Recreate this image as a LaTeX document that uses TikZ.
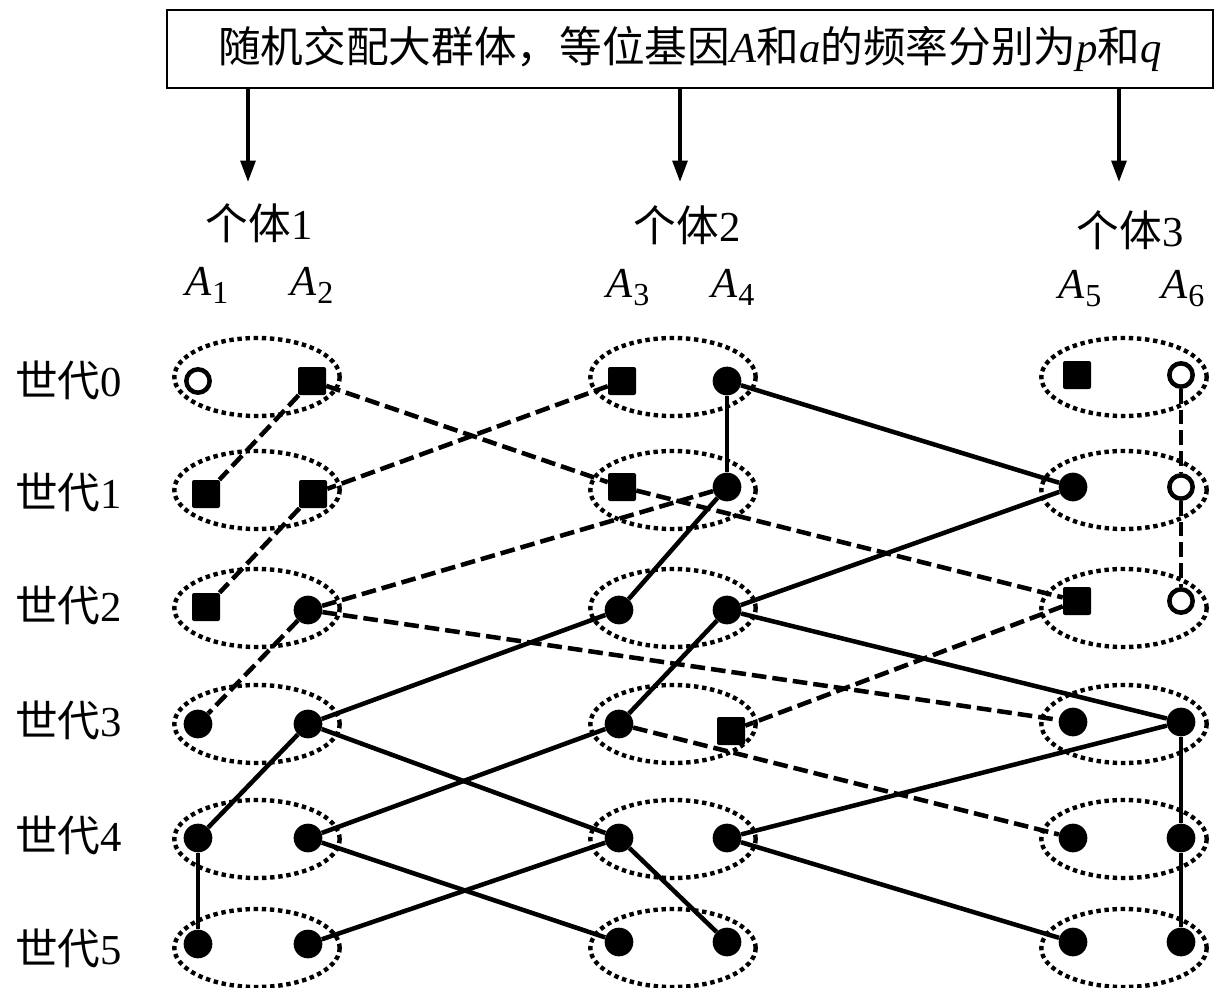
\documentclass[tikz,border=0pt]{standalone}
\usepackage{fontspec}
\setmainfont{Liberation Serif}
\newfontfamily\cjk{Noto Sans CJK SC}
\usetikzlibrary{shapes.geometric,arrows.meta}
\newcommand\Alab[1]{\textit{A}\kern0.5pt\raisebox{-6.5pt}{\fontsize{24}{24}\selectfont #1}}
\begin{document}
\begin{tikzpicture}[x=0.75pt,y=-0.75pt,
  txt/.style={font=\fontsize{32}{38}\selectfont, inner sep=0pt},
  dotn/.style={circle, fill=black, inner sep=0pt, minimum size=21.5pt},
  odot/.style={circle, draw=black, line width=3.4pt, fill=white, inner sep=0pt, minimum size=17.5pt},
  sqn/.style={rectangle, fill=black, rounded corners=1.5pt, inner sep=0pt, minimum size=21pt},
  grp/.style={ellipse, draw, line width=3.3pt, dash pattern=on 3.3pt off 2.8pt, minimum width=124pt, minimum height=58.5pt, inner sep=0pt},
  sl/.style={line width=3.4pt},
  dl/.style={line width=3.4pt, dash pattern=on 11pt off 4.5pt},
  arr/.style={line width=2.8pt, -{Triangle[length=16pt,width=11pt]}}
]
\useasboundingbox (0,0) rectangle (1217,988);

% title
\node[draw, line width=1.6pt, minimum width=784.5pt, minimum height=58.5pt, inner sep=0pt,
      font=\fontsize{32}{38}\selectfont] (title) at (690,49)
  {{\cjk 随机交配大群体，等位基因}\textit{A}{\cjk 和}\textit{a}{\cjk 的频率分别为}\textit{p}{\cjk 和}\textit{q}};

\coordinate (ar1) at (248,182);
\coordinate (ar2) at (680,182);
\coordinate (ar3) at (1119,182);
\draw[arr] (title.south -| ar1) -- (ar1);
\draw[arr] (title.south -| ar2) -- (ar2);
\draw[arr] (title.south -| ar3) -- (ar3);

% individual labels
\node[txt, anchor=base] (ind1) at (259,239) {{\cjk 个体}1};
\node[txt, anchor=base] (ind2) at (687,241) {{\cjk 个体}2};
\node[txt, anchor=base] (ind3) at (1130,246) {{\cjk 个体}3};

\node[txt, anchor=base] (l1) at (207,295) {\Alab{1}};
\node[txt, anchor=base] (l2) at (312,295) {\Alab{2}};
\node[txt, anchor=base] (l3) at (628,297) {\Alab{3}};
\node[txt, anchor=base] (l4) at (733,297) {\Alab{4}};
\node[txt, anchor=base] (l5) at (1080,298) {\Alab{5}};
\node[txt, anchor=base] (l6) at (1183,298) {\Alab{6}};

% generation labels
\node[txt, anchor=base west] (g0) at (15,396) {{\cjk 世代}0};
\node[txt, anchor=base west] (g1) at (15,508) {{\cjk 世代}1};
\node[txt, anchor=base west] (g2) at (15,621) {{\cjk 世代}2};
\node[txt, anchor=base west] (g3) at (15,736) {{\cjk 世代}3};
\node[txt, anchor=base west] (g4) at (15,851) {{\cjk 世代}4};
\node[txt, anchor=base west] (g5) at (15,964) {{\cjk 世代}5};

% ellipses
\foreach \r/\y in {0/377,1/490,2/608,3/724,4/839,5/948}{
  \node[grp] (e\r a) at (257,\y) {};
  \node[grp] (e\r b) at (673,\y) {};
  \node[grp] (e\r c) at (1124,\y) {};
}

% alleles
\node[odot] (a01) at (198,381) {};
\node[sqn]  (a02) at (312,381) {};
\node[sqn]  (a03) at (622,381) {};
\node[dotn] (a04) at (727,381) {};
\node[sqn]  (a05) at (1077,375) {};
\node[odot] (a06) at (1181,375) {};

\node[sqn]  (a11) at (206,494) {};
\node[sqn]  (a12) at (313,494) {};
\node[sqn]  (a13) at (622,487) {};
\node[dotn] (a14) at (727,487) {};
\node[dotn] (a15) at (1073,487) {};
\node[odot] (a16) at (1181,487) {};

\node[sqn]  (a21) at (206,607) {};
\node[dotn] (a22) at (308,610) {};
\node[dotn] (a23) at (619,610) {};
\node[dotn] (a24) at (727,610) {};
\node[sqn]  (a25) at (1077,601) {};
\node[odot] (a26) at (1181,601) {};

\node[dotn] (a31) at (198,724) {};
\node[dotn] (a32) at (308,724) {};
\node[dotn] (a33) at (619,724) {};
\node[sqn]  (a34) at (731,731) {};
\node[dotn] (a35) at (1073,722) {};
\node[dotn] (a36) at (1181,722) {};

\node[dotn] (a41) at (198,838) {};
\node[dotn] (a42) at (308,838) {};
\node[dotn] (a43) at (619,838) {};
\node[dotn] (a44) at (727,838) {};
\node[dotn] (a45) at (1073,838) {};
\node[dotn] (a46) at (1181,838) {};

\node[dotn] (a51) at (198,944) {};
\node[dotn] (a52) at (308,944) {};
\node[dotn] (a53) at (619,942) {};
\node[dotn] (a54) at (727,942) {};
\node[dotn] (a55) at (1073,942) {};
\node[dotn] (a56) at (1181,942) {};

% dashed lineages
\foreach \p/\c in {a02/a11,a02/a13,a03/a12,a12/a21,a13/a25,a14/a22,a22/a31,a22/a35,a25/a34,a33/a45,a06/a16,a16/a26}
  \draw[dl] (\p) -- (\c);

% solid lineages
\foreach \p/\c in {a04/a14,a04/a15,a14/a23,a15/a24,a23/a32,a24/a33,a24/a36,a32/a41,a32/a43,a33/a42,a36/a44,a36/a46,a41/a51,a42/a53,a43/a52,a43/a54,a44/a55,a46/a56}
  \draw[sl] (\p) -- (\c);
\end{tikzpicture}
\end{document}
